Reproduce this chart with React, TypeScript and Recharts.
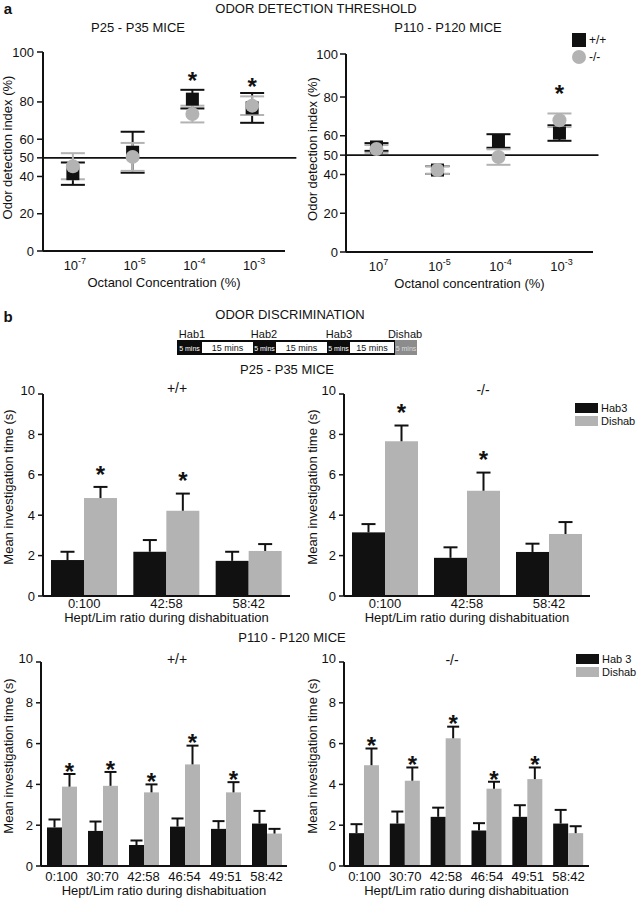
import React from 'react';
import {
  ScatterChart, Scatter, BarChart, Bar, XAxis, YAxis, ErrorBar, ReferenceLine, Legend,
} from 'recharts';

const FONT = '"Liberation Sans", Arial, Helvetica, sans-serif';
const INK = '#111111';
const GREY = '#b3b3b3';
const STAR_FS = 24;

// ---------- a: odor detection threshold ----------
const concPositions = [1, 2, 3, 4];
const concExpYoung = ['-7', '-5', '-4', '-3'];
const concExpAdult = ['7', '-5', '-4', '-3'];
const detYTickValues = [0, 20, 40, 50, 60, 80];
const detTopLabel = '100';
const detTopYoung = 106.8;
const detTopAdult = 102.2;
const chanceLevel = 50;
const genotypeNames = ['+/+', '-/-'];

const youngWT = [41.5, 53, 81.5, 76.8];
const youngWTErr = [6, 11, 5, 8];
const youngKO = [45.5, 50.5, 73.5, 78];
const youngKOErr = [7, 7.5, 4.5, 5];
const youngStarY: (number | null)[] = [null, null, 94.5, 91.3];

const adultWT = [54.2, 42.3, 57.3, 61.4];
const adultWTErr = [2, 2, 3.5, 4];
const adultKO = [53.2, 42.3, 49, 68];
const adultKOErr = [2, 2, 4, 3.5];
const adultStarY: (number | null)[] = [null, null, null, 84.6];

// ---------- b: odor discrimination ----------
const ratiosYoung = ['0:100', '42:58', '58:42'];
const ratiosAdult = ['0:100', '30:70', '42:58', '46:54', '49:51', '58:42'];
const discYTicks = [0, 2, 4, 6, 8, 10];

const youngWTHab3 = [1.78, 2.19, 1.74];
const youngWTHab3Err = [0.41, 0.58, 0.45];
const youngWTDishab = [4.85, 4.22, 2.23];
const youngWTDishabErr = [0.55, 0.85, 0.34];
const youngWTSig = [true, true, false];

const youngKOHab3 = [3.15, 1.89, 2.18];
const youngKOHab3Err = [0.41, 0.52, 0.41];
const youngKODishab = [7.66, 5.21, 3.07];
const youngKODishabErr = [0.78, 0.9, 0.59];
const youngKOSig = [true, true, false];

const adultWTHab3 = [1.89, 1.72, 1.03, 1.93, 1.82, 2.08];
const adultWTHab3Err = [0.39, 0.46, 0.22, 0.4, 0.38, 0.62];
const adultWTDishab = [3.89, 3.93, 3.61, 4.98, 3.61, 1.59];
const adultWTDishabErr = [0.62, 0.68, 0.39, 0.92, 0.5, 0.23];
const adultWTSig = [true, true, true, true, true, false];

const adultKOHab3 = [1.61, 2.08, 2.41, 1.74, 2.41, 2.08];
const adultKOHab3Err = [0.44, 0.59, 0.45, 0.36, 0.57, 0.67];
const adultKODishab = [4.94, 4.18, 6.26, 3.79, 4.26, 1.61];
const adultKODishabErr = [0.82, 0.65, 0.57, 0.34, 0.57, 0.34];
const adultKOSig = [true, true, true, true, true, false];

// ---------- helpers ----------
const txt = { fontFamily: FONT, fill: INK } as const;

function Title({ x, y, size = 13, bold = false, children }: any) {
  return (
    <div
      style={{
        position: 'absolute', left: x, top: y, transform: 'translate(-50%,-50%)',
        fontSize: size, fontWeight: bold ? 'bold' : 'normal', whiteSpace: 'nowrap',
        lineHeight: 1, fontFamily: FONT, color: INK,
      }}
    >
      {children}
    </div>
  );
}

const vTitle = (text: string, x: number, cy: number) => () => (
  <text x={x} y={cy} transform={`rotate(-90 ${x} ${cy})`} textAnchor="middle"
    dominantBaseline="central" fontSize={13} {...txt}>{text}</text>
);
const hTitle = (text: string, cx: number, y: number) => () => (
  <text x={cx} y={y} textAnchor="middle" fontSize={13} {...txt}>{text}</text>
);

const starText = (cx: number, centerY: number, key?: any) => (
  <text key={key} x={cx} y={centerY + 0.575 * STAR_FS} textAnchor="middle"
    fontSize={STAR_FS} fontWeight="bold" {...txt}>*</text>
);

const orderBy = (payload: any[], names: string[]) =>
  names.map((n) => (payload || []).find((e: any) => e.value === n)).filter(Boolean);

// ---------- panel a ----------
function DetectionPanel(p: any) {
  const wt = concPositions.map((x, i) => ({ x, y: p.wt[i], err: p.wtErr[i] }));
  const ko = concPositions.map((x, i) => ({ x, y: p.ko[i], err: p.koErr[i] }));
  const stars = concPositions
    .map((x, i) => ({ x, y: p.stars[i] }))
    .filter((d) => d.y != null);
  const ticks = [...detYTickValues, p.top];
  const plotBottom = 300 - p.xH;

  const yTick = (tp: any) => {
    const v = tp.payload.value;
    return (
      <text x={tp.x} y={tp.y} dy="0.35em" textAnchor="end" fontSize={13} {...txt}>
        {v === p.top ? detTopLabel : String(v)}
      </text>
    );
  };
  const xTick = (tp: any) => {
    const e = p.exps[concPositions.indexOf(tp.payload.value)];
    return (
      <text x={tp.x + 2} y={tp.y + 19} textAnchor="middle" fontSize={13} {...txt}>
        10<tspan fontSize={9} dy={-6}>{e}</tspan>
      </text>
    );
  };
  const legendContent = (lp: any) => (
    <div style={{ fontFamily: FONT, fontSize: 12, color: INK }}>
      {orderBy(lp.payload, genotypeNames).map((e: any, i: number) => (
        <div key={i} style={{ display: 'flex', alignItems: 'center', height: 15, marginBottom: 2 }}>
          <span style={{
            display: 'inline-block', width: 14, height: 14, background: e.color,
            borderRadius: e.type === 'circle' ? '50%' : 0, marginRight: 3,
          }} />
          <span>{e.value}</span>
        </div>
      ))}
    </div>
  );

  return (
    <div style={{ position: 'absolute', left: p.left, top: 0 }}>
      <ScatterChart width={p.width} height={300}
        margin={{ top: p.plotTop, right: p.width - p.plotRight, bottom: 0, left: 0 }}>
        <XAxis dataKey="x" type="number" domain={[0.5, 4.55]} ticks={concPositions}
          interval={0} height={p.xH} tickLine={false} tickSize={0} tickMargin={0}
          axisLine={{ stroke: INK, strokeWidth: 2 }} tick={xTick}
          label={hTitle(p.xTitle, (p.yW + p.plotRight) / 2, plotBottom + 36)} />
        <YAxis dataKey="y" type="number" domain={[0, p.top]} ticks={ticks} interval={0}
          width={p.yW} tickSize={6} tickMargin={p.yTickMargin}
          tickLine={{ stroke: INK, strokeWidth: 1.5 }} axisLine={{ stroke: INK, strokeWidth: 2 }}
          tick={yTick}
          label={vTitle('Odor detection index (%)', p.yTitleX, (p.plotTop + plotBottom) / 2 - 4)} />
        <ReferenceLine segment={[{ x: 0.5, y: chanceLevel }, { x: p.lineEnd, y: chanceLevel }]}
          ifOverflow="visible" stroke={INK} strokeWidth={1.6} />
        <Scatter name={genotypeNames[0]} data={wt} fill={INK} legendType="square" isAnimationActive={false}
          shape={(sp: any) => <rect x={sp.cx - 6.5} y={sp.cy - 6.5} width={13} height={13} fill={INK} />}>
          <ErrorBar dataKey="err" direction="y" width={12} stroke={INK} strokeWidth={2} />
        </Scatter>
        <Scatter name={genotypeNames[1]} data={ko} fill={GREY} legendType="circle" isAnimationActive={false}
          shape={(sp: any) => <circle cx={sp.cx} cy={sp.cy} r={7} fill={GREY} />}>
          <ErrorBar dataKey="err" direction="y" width={12} stroke={GREY} strokeWidth={2} />
        </Scatter>
        <Scatter name="significance" data={stars} fill={INK} legendType="none" isAnimationActive={false}
          shape={(sp: any) => starText(sp.cx, sp.cy)} />
        {p.legend ? (
          <Legend content={legendContent} layout="vertical" align="center" verticalAlign="middle"
            wrapperStyle={{ left: p.legendX, top: p.legendY, width: 60, height: 36 }} />
        ) : null}
      </ScatterChart>
    </div>
  );
}

// ---------- panel b ----------
function DiscPanel(p: any) {
  const data = p.ratios.map((r: string, i: number) => ({ ratio: r, hab3: p.hab3[i], dishab: p.dishab[i] }));
  const plotBottom = p.height - p.xH;

  const barShape = (key: string, fill: string, errs: number[], sig: boolean[] | null) => (bp: any) => {
    const { x, y, width, height, payload } = bp;
    const i = p.ratios.indexOf(payload.ratio);
    const val = payload[key];
    const ppu = val > 0 ? height / val : 0;
    const cx = x + width / 2;
    const ey = y - errs[i] * ppu;
    return (
      <g>
        <rect x={x} y={y} width={width} height={height} fill={fill} />
        <line x1={cx} x2={cx} y1={y} y2={ey} stroke={INK} strokeWidth={2} />
        <line x1={cx - p.capW / 2} x2={cx + p.capW / 2} y1={ey} y2={ey} stroke={INK} strokeWidth={2} />
        {sig && sig[i] ? starText(cx, ey - p.starGap) : null}
      </g>
    );
  };
  const yTick = (tp: any) => {
    const v = tp.payload.value;
    const lift = v === 10 ? 4 : 0;
    return (
      <text x={tp.x} y={tp.y - lift} dy="0.35em" textAnchor="end" fontSize={13} {...txt}>{v}</text>
    );
  };
  const xTick = (tp: any) => (
    <text x={tp.x} y={tp.y + p.xTickDy} textAnchor="middle" fontSize={13} {...txt}>{tp.payload.value}</text>
  );
  const legendContent = (lp: any) => (
    <div style={{ fontFamily: FONT, fontSize: 11, color: INK }}>
      {orderBy(lp.payload, [p.hab3Name, 'Dishab']).map((e: any, i: number) => (
        <div key={i} style={{ display: 'flex', alignItems: 'center', height: 12.5 }}>
          <span style={{ display: 'inline-block', width: 23, height: 10, background: e.color, marginRight: 3 }} />
          <span style={{ lineHeight: '12px' }}>{e.value}</span>
        </div>
      ))}
    </div>
  );

  return (
    <div style={{ position: 'absolute', left: p.left, top: p.top }}>
      <BarChart width={p.width} height={p.height} data={data} barGap={0} barSize={p.barSize}
        margin={{ top: p.plotTop, right: p.width - p.plotRight, bottom: 0, left: 0 }}>
        <XAxis dataKey="ratio" height={p.xH} tickLine={false} tickSize={0} tickMargin={0} interval={0}
          axisLine={{ stroke: INK, strokeWidth: 2 }} tick={xTick}
          label={hTitle('Hept/Lim ratio during dishabituation', (p.yW + p.plotRight) / 2, plotBottom + p.xTitleDy)} />
        <YAxis domain={[0, 10]} ticks={discYTicks} interval={0} width={p.yW} tickSize={5} tickMargin={3}
          tickLine={{ stroke: INK, strokeWidth: 1.5 }} axisLine={{ stroke: INK, strokeWidth: 2 }} tick={yTick}
          label={vTitle('Mean investigation time (s)', p.yTitleX, (p.plotTop + plotBottom) / 2 - 8)} />
        <Bar dataKey="hab3" name={p.hab3Name} fill={INK} isAnimationActive={false}
          shape={barShape('hab3', INK, p.hab3Err, null)} />
        <Bar dataKey="dishab" name="Dishab" fill={GREY} isAnimationActive={false}
          shape={barShape('dishab', GREY, p.dishabErr, p.sig)} />
        {p.legend ? (
          <Legend content={legendContent} layout="vertical" align="center" verticalAlign="middle"
            wrapperStyle={{ left: p.legendX, top: p.legendY, width: 70, height: 26 }} />
        ) : null}
      </BarChart>
    </div>
  );
}

function Timeline() {
  const seg = (left: number, width: number, bg: string, top = 340, height = 15) => (
    <div style={{ position: 'absolute', left, top, width, height, background: bg }} />
  );
  const small = (x: number, color: string) => (
    <div style={{ position: 'absolute', left: x, top: 347.5, transform: 'translate(-50%,-50%)', fontSize: 7, color, fontFamily: FONT, whiteSpace: 'nowrap', lineHeight: 1 }}>5 mins</div>
  );
  return (
    <>
      <Title x={192} y={334} size={11}>Hab1</Title>
      <Title x={264} y={334} size={11}>Hab2</Title>
      <Title x={339} y={334} size={11}>Hab3</Title>
      <Title x={405} y={334} size={11}>Dishab</Title>
      {seg(177, 218, '#0c0c0c')}
      {seg(395, 22, '#8c8c8c')}
      {seg(202, 51, '#ffffff', 342, 11)}
      {seg(276, 51, '#ffffff', 342, 11)}
      {seg(350, 44, '#ffffff', 342, 11)}
      {small(189.5, '#ffffff')}
      {small(264.5, '#ffffff')}
      {small(338.5, '#ffffff')}
      {small(406, '#dcdcdc')}
      <Title x={227.5} y={348} size={9}>15 mins</Title>
      <Title x={301.5} y={348} size={9}>15 mins</Title>
      <Title x={372} y={348} size={9}>15 mins</Title>
    </>
  );
}

export default function App() {
  return (
    <div style={{ position: 'absolute', left: 0, top: 0, width: 642, height: 900, background: '#fff', overflow: 'hidden', fontFamily: FONT }}>
      <Title x={8} y={8} size={15} bold>a</Title>
      <Title x={316} y={8}>ODOR DETECTION THRESHOLD</Title>
      <Title x={138} y={27}>P25 - P35 MICE</Title>
      <Title x={448} y={27}>P110 - P120 MICE</Title>

      <DetectionPanel left={0} width={320} plotTop={52} plotRight={285} xH={49} yW={43} yTickMargin={3}
        top={detTopYoung} exps={concExpYoung} wt={youngWT} wtErr={youngWTErr} ko={youngKO} koErr={youngKOErr}
        stars={youngStarY} xTitle="Octanol Concentration (%)" yTitleX={7} lineEnd={4.74} legend={false} />
      <DetectionPanel left={300} width={342} plotTop={54} plotRight={293} xH={48} yW={46} yTickMargin={2}
        top={detTopAdult} exps={concExpAdult} wt={adultWT} wtErr={adultWTErr} ko={adultKO} koErr={adultKOErr}
        stars={adultStarY} xTitle="Octanol concentration (%)" yTitleX={12} lineEnd={4.64} legend
        legendX={272} legendY={32} />

      <Title x={8} y={316} size={15} bold>b</Title>
      <Title x={290} y={314}>ODOR DISCRIMINATION</Title>
      <Timeline />
      <Title x={287} y={369}>P25 - P35 MICE</Title>
      <Title x={177} y={388} size={14}>+/+</Title>
      <Title x={483} y={390} size={14}>-/-</Title>

      <DiscPanel left={0} top={380} width={320} height={255} plotTop={14} plotRight={290} xH={39} yW={43}
        ratios={ratiosYoung} hab3={youngWTHab3} hab3Err={youngWTHab3Err} dishab={youngWTDishab}
        dishabErr={youngWTDishabErr} sig={youngWTSig} barSize={33} capW={14} starGap={18}
        xTickDy={12} xTitleDy={26} yTitleX={8} hab3Name="Hab3" legend={false} />
      <DiscPanel left={300} top={380} width={342} height={255} plotTop={14} plotRight={290} xH={39} yW={44}
        ratios={ratiosYoung} hab3={youngKOHab3} hab3Err={youngKOHab3Err} dishab={youngKODishab}
        dishabErr={youngKODishabErr} sig={youngKOSig} barSize={33} capW={14} starGap={18}
        xTickDy={12} xTitleDy={26} yTitleX={12} hab3Name="Hab3" legend legendX={275} legendY={22} />

      <Title x={292} y={637}>P110 - P120 MICE</Title>
      <Title x={177} y={659} size={14}>+/+</Title>
      <Title x={452} y={660} size={14}>-/-</Title>

      <DiscPanel left={0} top={640} width={320} height={260} plotTop={22} plotRight={287} xH={34} yW={41}
        ratios={ratiosAdult} hab3={adultWTHab3} hab3Err={adultWTHab3Err} dishab={adultWTDishab}
        dishabErr={adultWTDishabErr} sig={adultWTSig} barSize={15} capW={12} starGap={8}
        xTickDy={15} xTitleDy={29} yTitleX={8} hab3Name="Hab3" legend={false} />
      <DiscPanel left={300} top={640} width={342} height={260} plotTop={22} plotRight={289} xH={34} yW={44}
        ratios={ratiosAdult} hab3={adultKOHab3} hab3Err={adultKOHab3Err} dishab={adultKODishab}
        dishabErr={adultKODishabErr} sig={adultKOSig} barSize={15} capW={12} starGap={8}
        xTickDy={15} xTitleDy={29} yTitleX={12} hab3Name="Hab 3" legend legendX={276} legendY={13} />
    </div>
  );
}
